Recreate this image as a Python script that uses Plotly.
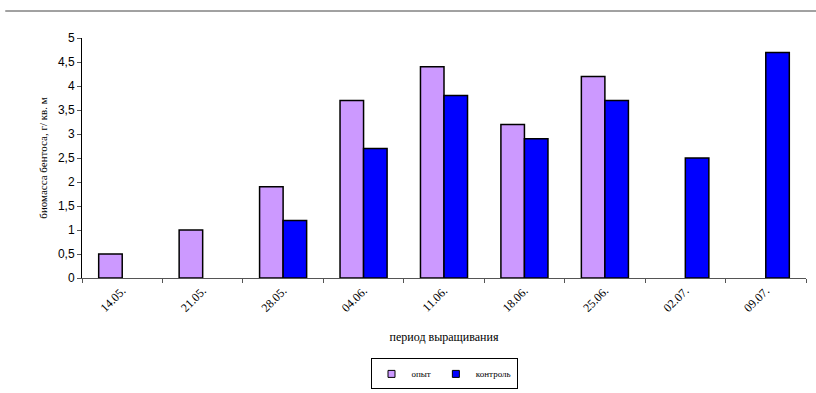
import plotly.graph_objects as go

# sampling dates
dates = ["14.05.", "21.05.", "28.05.", "04.06.", "11.06.", "18.06.", "25.06.", "02.07.", "09.07."]
# benthos biomass, g per sq. m
opyt = [0.5, 1.0, 1.9, 3.7, 4.4, 3.2, 4.2, None, None]
kontrol = [None, None, 1.2, 2.7, 3.8, 2.9, 3.7, 2.5, 4.7]
y_ticks = [0, 0.5, 1, 1.5, 2, 2.5, 3, 3.5, 4, 4.5, 5]

series_names = ["опыт", "контроль"]
series_colors = ["#CC99FF", "#0000FF"]

serif = "Liberation Serif, DejaVu Serif, serif"
sans = "Liberation Sans, Arial, sans-serif"

fig = go.Figure()
for name, vals, color in zip(series_names, [opyt, kontrol], series_colors):
    fig.add_trace(go.Bar(
        x=dates, y=vals, name=name, showlegend=False,
        marker=dict(color=color, line=dict(color="#000000", width=1.5)),
    ))
# small square legend keys
for name, color in zip(series_names, series_colors):
    fig.add_trace(go.Scatter(
        x=[None], y=[None], name=name, mode="markers",
        marker=dict(symbol="square", size=7, color=color, line=dict(color="#000000", width=1)),
    ))

fig.update_layout(
    width=816, height=393,
    margin=dict(l=82, r=10, t=38, b=115, autoexpand=False),
    paper_bgcolor="white", plot_bgcolor="white",
    barmode="group", bargap=0.415, bargroupgap=0,
    separators=", ",
    showlegend=True,
    legend=dict(
        orientation="h", x=0.5, xanchor="center", y=-0.335, yanchor="top",
        bordercolor="#000000", borderwidth=1,
        font=dict(family=serif, size=9, color="#000000"),
        itemwidth=30, tracegroupgap=0,
    ),
    xaxis=dict(
        type="category", tickson="boundaries",
        ticks="outside", ticklen=4, tickcolor="#555555",
        showline=True, linecolor="#555555", linewidth=1,
        tickangle=-45, tickfont=dict(family=serif, size=12, color="#000000"),
        title=dict(text="период выращивания", font=dict(family=serif, size=12, color="#000000"), standoff=18),
        showgrid=False,
    ),
    yaxis=dict(
        range=[0, 5], tickvals=y_ticks,
        ticks="outside", ticklen=4, tickcolor="#555555",
        showline=True, linecolor="#000000", linewidth=1,
        tickfont=dict(family=sans, size=12, color="#000000"),
        title=dict(text="биомасса бентоса, г/ кв. м", font=dict(family=serif, size=11, color="#000000"), standoff=8),
        showgrid=False, zeroline=False,
    ),
    shapes=[dict(
        type="line", xref="paper", yref="paper",
        x0=-0.106, x1=1.02, y0=1.1125, y1=1.1125,
        line=dict(color="#444444", width=1),
    )],
)

fig.write_html("out.html")
